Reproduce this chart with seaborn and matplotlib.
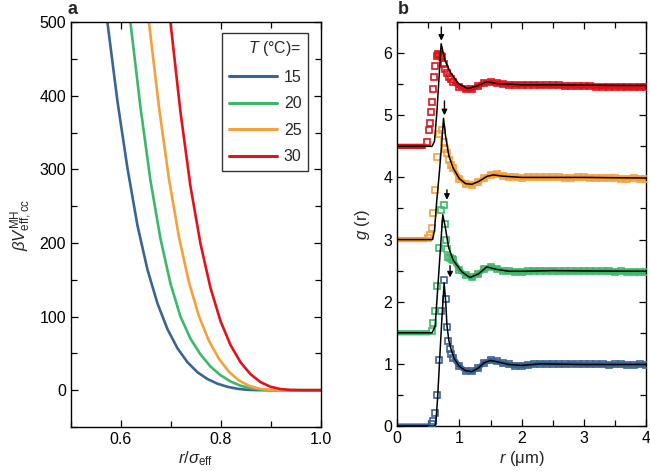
import numpy as np
import pandas as pd
import matplotlib
matplotlib.use("Agg")
import matplotlib.pyplot as plt
import seaborn as sns
from matplotlib.ticker import MultipleLocator

sns.set_style("ticks")
plt.rcParams["font.family"] = ["Liberation Sans", "DejaVu Sans"]
plt.rcParams["mathtext.fontset"] = "custom"
plt.rcParams["mathtext.rm"] = "Liberation Sans"
plt.rcParams["mathtext.it"] = "Liberation Sans:italic"
plt.rcParams["mathtext.bf"] = "Liberation Sans:bold"

# Temperatures and colours
temps = ["15", "20", "25", "30"]
colors = ["#3a6496", "#3cb86b", "#f6a03c", "#e2121b"]

# Panel a: effective pair potential
pot_r = {
    "15": [0.573, 0.593, 0.613, 0.633, 0.653, 0.673, 0.693, 0.713, 0.733, 0.753, 0.773, 0.793, 0.813, 0.833, 0.853, 0.873, 0.90, 1.0],
    "20": [0.619, 0.639, 0.659, 0.679, 0.699, 0.719, 0.739, 0.759, 0.779, 0.799, 0.819, 0.839, 0.859, 0.879, 0.899, 0.92, 1.0],
    "25": [0.656, 0.676, 0.696, 0.716, 0.736, 0.756, 0.776, 0.796, 0.816, 0.836, 0.856, 0.876, 0.896, 0.916, 0.94, 1.0],
    "30": [0.699, 0.719, 0.739, 0.759, 0.779, 0.799, 0.819, 0.839, 0.859, 0.879, 0.899, 0.919, 0.939, 0.96, 1.0],
}
pot_v = {
    "15": [500, 393, 302, 224, 164, 118, 83, 57, 38, 24.4, 15.1, 8.8, 4.6, 1.9, 0.5, 0.1, 0, 0],
    "20": [500, 385, 285, 206, 145, 100, 70, 48.6, 32.2, 20.4, 11.9, 6.1, 2.6, 0.8, 0.15, 0, 0],
    "25": [500, 385, 287, 208, 146.5, 100.4, 66.8, 42.5, 25, 13.2, 5.9, 2.2, 0.5, 0.05, 0, 0],
    "30": [500, 378, 277, 199, 139, 94, 61.4, 38, 21.7, 11, 4.65, 1.55, 0.3, 0, 0],
}

# Panel b: g(r) squares (without vertical offset)
offsets = [0.0, 1.5, 3.0, 4.5]
base_end = [0.53, 0.53, 0.48, 0.46]
peak_r = {
    "15": [0.557, 0.584, 0.61, 0.637, 0.67, 0.71, 0.745, 0.78, 0.80, 0.82, 0.845, 0.87],
    "20": [0.567, 0.584, 0.61, 0.637, 0.665, 0.707, 0.745, 0.77, 0.79, 0.80, 0.825, 0.85, 0.875],
    "25": [0.50, 0.53, 0.557, 0.584, 0.61, 0.637, 0.68, 0.718, 0.745, 0.77, 0.80, 0.84, 0.87],
    "30": [0.477, 0.504, 0.52, 0.546, 0.567, 0.584, 0.60, 0.61, 0.637, 0.66, 0.68, 0.70, 0.72, 0.745, 0.77, 0.80, 0.83, 0.86],
}
peak_g = {
    "15": [0.04, 0.085, 0.21, 0.50, 1.06, 1.85, 2.35, 2.04, 1.60, 1.37, 1.24, 1.16],
    "20": [0.03, 0.16, 0.35, 0.75, 1.37, 1.98, 2.05, 1.75, 1.50, 1.35, 1.22, 1.20, 1.18],
    "25": [0.02, 0.07, 0.19, 0.42, 0.79, 1.33, 1.70, 1.76, 1.57, 1.45, 1.40, 1.28, 1.20],
    "30": [0.07, 0.26, 0.38, 0.55, 0.72, 0.92, 1.12, 1.30, 1.46, 1.49, 1.47, 1.45, 1.44, 1.33, 1.25, 1.18, 1.12, 1.08],
}
tail_r = np.round(np.arange(0.9, 4.05, 0.1), 2)
tail_g = {
    "15": [1.10, 0.96, 0.89, 0.88, 0.93, 1.02, 1.06, 1.04, 1.01, 0.99, 0.97, 0.97, 0.98, 0.99, 1.00, 1.00,
           1.00, 0.99, 0.99, 1.00, 0.99, 0.99, 0.99, 0.99, 0.99, 0.98, 0.99, 0.99, 0.98, 0.98, 0.99, 0.98],
    "20": [1.17, 1.01, 0.93, 0.89, 0.94, 1.03, 1.06, 1.03, 1.00, 0.99, 0.98, 0.98, 0.99, 1.00, 1.00, 1.00,
           1.00, 0.99, 0.99, 0.99, 0.99, 0.99, 0.99, 0.99, 0.99, 0.99, 0.98, 0.99, 0.98, 0.98, 0.98, 0.98],
    "25": [1.15, 0.98, 0.90, 0.88, 0.92, 0.99, 1.04, 1.05, 1.03, 1.01, 1.00, 0.99, 1.00, 1.00, 1.00, 1.00,
           1.00, 1.00, 0.99, 0.99, 1.00, 1.00, 0.99, 0.99, 0.99, 0.99, 0.99, 0.98, 0.98, 0.99, 0.98, 0.98],
    "30": [1.04, 0.96, 0.92, 0.92, 0.97, 1.02, 1.03, 1.02, 1.00, 0.99, 0.99, 0.99, 0.99, 0.99, 0.98, 0.98,
           0.98, 0.98, 0.97, 0.97, 0.97, 0.97, 0.97, 0.96, 0.96, 0.96, 0.96, 0.96, 0.95, 0.95, 0.95, 0.95],
}

# Panel b: model curves (without offset)
model_r = {
    "15": [0, 0.60, 0.62, 0.65, 0.69, 0.72, 0.755, 0.78, 0.80, 0.83, 0.87, 0.92, 1.0, 1.1, 1.2, 1.3, 1.4, 1.5, 1.6, 1.8, 2.0, 2.3, 3.0, 4.0],
    "20": [0, 0.56, 0.61, 0.66, 0.70, 0.733, 0.77, 0.825, 0.9, 1.04, 1.17, 1.31, 1.44, 1.6, 1.8, 2.0, 2.5, 3.0, 4.0],
    "25": [0, 0.57, 0.60, 0.637, 0.68, 0.72, 0.745, 0.78, 0.83, 0.9, 1.0, 1.1, 1.2, 1.3, 1.45, 1.55, 1.7, 2.0, 2.5, 3.0, 4.0],
    "30": [0, 0.56, 0.60, 0.637, 0.68, 0.707, 0.77, 0.85, 0.985, 1.13, 1.28, 1.44, 1.6, 1.8, 2.0, 2.5, 3.0, 3.5, 4.0],
}
model_g = {
    "15": [0, 0, 0.03, 0.45, 1.2, 1.75, 2.30, 2.0, 1.62, 1.38, 1.22, 1.08, 0.96, 0.89, 0.875, 0.93, 1.02, 1.055, 1.035, 0.99, 0.975, 1.0, 0.99, 0.99],
    "20": [0, 0, 0.10, 0.83, 1.42, 1.90, 1.72, 1.38, 1.17, 0.98, 0.89, 0.95, 1.06, 1.02, 0.99, 0.99, 1.0, 0.995, 0.99],
    "25": [0, 0, 0.15, 0.63, 1.10, 1.60, 1.95, 1.65, 1.35, 1.15, 0.98, 0.90, 0.89, 0.93, 1.02, 1.04, 1.02, 1.0, 1.0, 1.0, 0.99],
    "30": [0, 0, 0.08, 0.53, 1.22, 1.65, 1.38, 1.20, 1.01, 0.93, 0.97, 1.04, 1.01, 1.0, 0.99, 0.99, 0.985, 0.98, 0.98],
}

# Arrows marking the peaks (x, top, tip)
arrow_x = [0.85, 0.80, 0.76, 0.71]
arrow_top = [2.58, 3.80, 5.23, 6.42]
arrow_tip = [2.39, 3.64, 5.00, 6.20]

fig = plt.figure(figsize=(6.5, 4.71), dpi=100)
ax1 = fig.add_axes([0.109, 0.0934, 0.385, 0.8597])
ax2 = fig.add_axes([0.611, 0.0955, 0.383, 0.8577])

# Panel a
rows = []
for t in temps:
    for r, v in zip(pot_r[t], pot_v[t]):
        rows.append({"r": r, "V": v, "T": t})
pot_df = pd.DataFrame(rows)
sns.lineplot(data=pot_df, x="r", y="V", hue="T", palette=colors, lw=1.9,
             sort=False, ax=ax1)
ax1.set_xlim(0.5, 1.0)
ax1.set_ylim(-50, 500)
ax1.xaxis.set_major_locator(MultipleLocator(0.2))
ax1.xaxis.set_minor_locator(MultipleLocator(0.1))
ax1.yaxis.set_major_locator(MultipleLocator(100))
ax1.yaxis.set_minor_locator(MultipleLocator(50))
ax1.set_xlabel(r"$r/\sigma_{\rm eff}$", fontsize=12, labelpad=2)
ax1.set_ylabel(r"$\beta V_{\rm eff,cc}^{\rm MH}$", fontsize=12, labelpad=4)
leg = ax1.legend(title=r"$T$ (°C)=", loc="upper right", bbox_to_anchor=(0.948, 0.973),
                 borderaxespad=0, fontsize=11.5, title_fontsize=11.5, handlelength=3.0,
                 handletextpad=0.45, labelspacing=0.72, frameon=True, fancybox=False,
                 alignment="right")
leg.get_frame().set_edgecolor("black")
leg.get_frame().set_linewidth(1.0)
for line in leg.get_lines():
    line.set_linewidth(2.2)

# Panel b
for i, t in enumerate(temps):
    off = offsets[i]
    col = colors[i]
    band_r = [0, base_end[i]] + [np.nan] + list(tail_r)
    band_g = [off, off] + [np.nan] + [g + off for g in tail_g[t]]
    ax2.plot(band_r, band_g, color=col, lw=3.8, solid_capstyle="butt", zorder=2)
    sq_r = list(peak_r[t]) + list(tail_r)
    sq_g = [g + off for g in peak_g[t]] + [g + off for g in tail_g[t]]
    ax2.plot(sq_r, sq_g, "s", ms=4.5, mfc="none", mec=col, mew=1.2, zorder=3)
    sns.lineplot(x=model_r[t], y=[g + off for g in model_g[t]], color="black",
                 lw=1.1, sort=False, ax=ax2, zorder=4)
    ax2.annotate("", xy=(arrow_x[i], arrow_tip[i]), xytext=(arrow_x[i], arrow_top[i]),
                 arrowprops=dict(arrowstyle="-|>", color="black", lw=1.0,
                                 mutation_scale=8, shrinkA=0, shrinkB=0), zorder=5)
ax2.set_xlim(0, 4)
ax2.set_ylim(0, 6.5)
ax2.xaxis.set_major_locator(MultipleLocator(1))
ax2.xaxis.set_minor_locator(MultipleLocator(0.5))
ax2.yaxis.set_major_locator(MultipleLocator(1))
ax2.yaxis.set_minor_locator(MultipleLocator(0.5))
ax2.set_xlabel(r"$r$ (μm)", fontsize=12, labelpad=2)
ax2.set_ylabel(r"$g$ (r)", fontsize=12, labelpad=8)

for ax in (ax1, ax2):
    ax.tick_params(which="both", direction="in", top=True, right=True,
                   labelsize=11.5, width=0.9, colors="black")
    ax.tick_params(which="major", length=5)
    ax.tick_params(which="minor", length=4)
    for sp in ax.spines.values():
        sp.set_linewidth(1.0)
        sp.set_color("black")

fig.text(72 / 650, 1 - 10 / 471, "a", fontsize=13, fontweight="bold", ha="center", va="center")
fig.text(403 / 650, 1 - 10 / 471, "b", fontsize=13, fontweight="bold", ha="center", va="center")

fig.savefig("out.png", dpi=100)
